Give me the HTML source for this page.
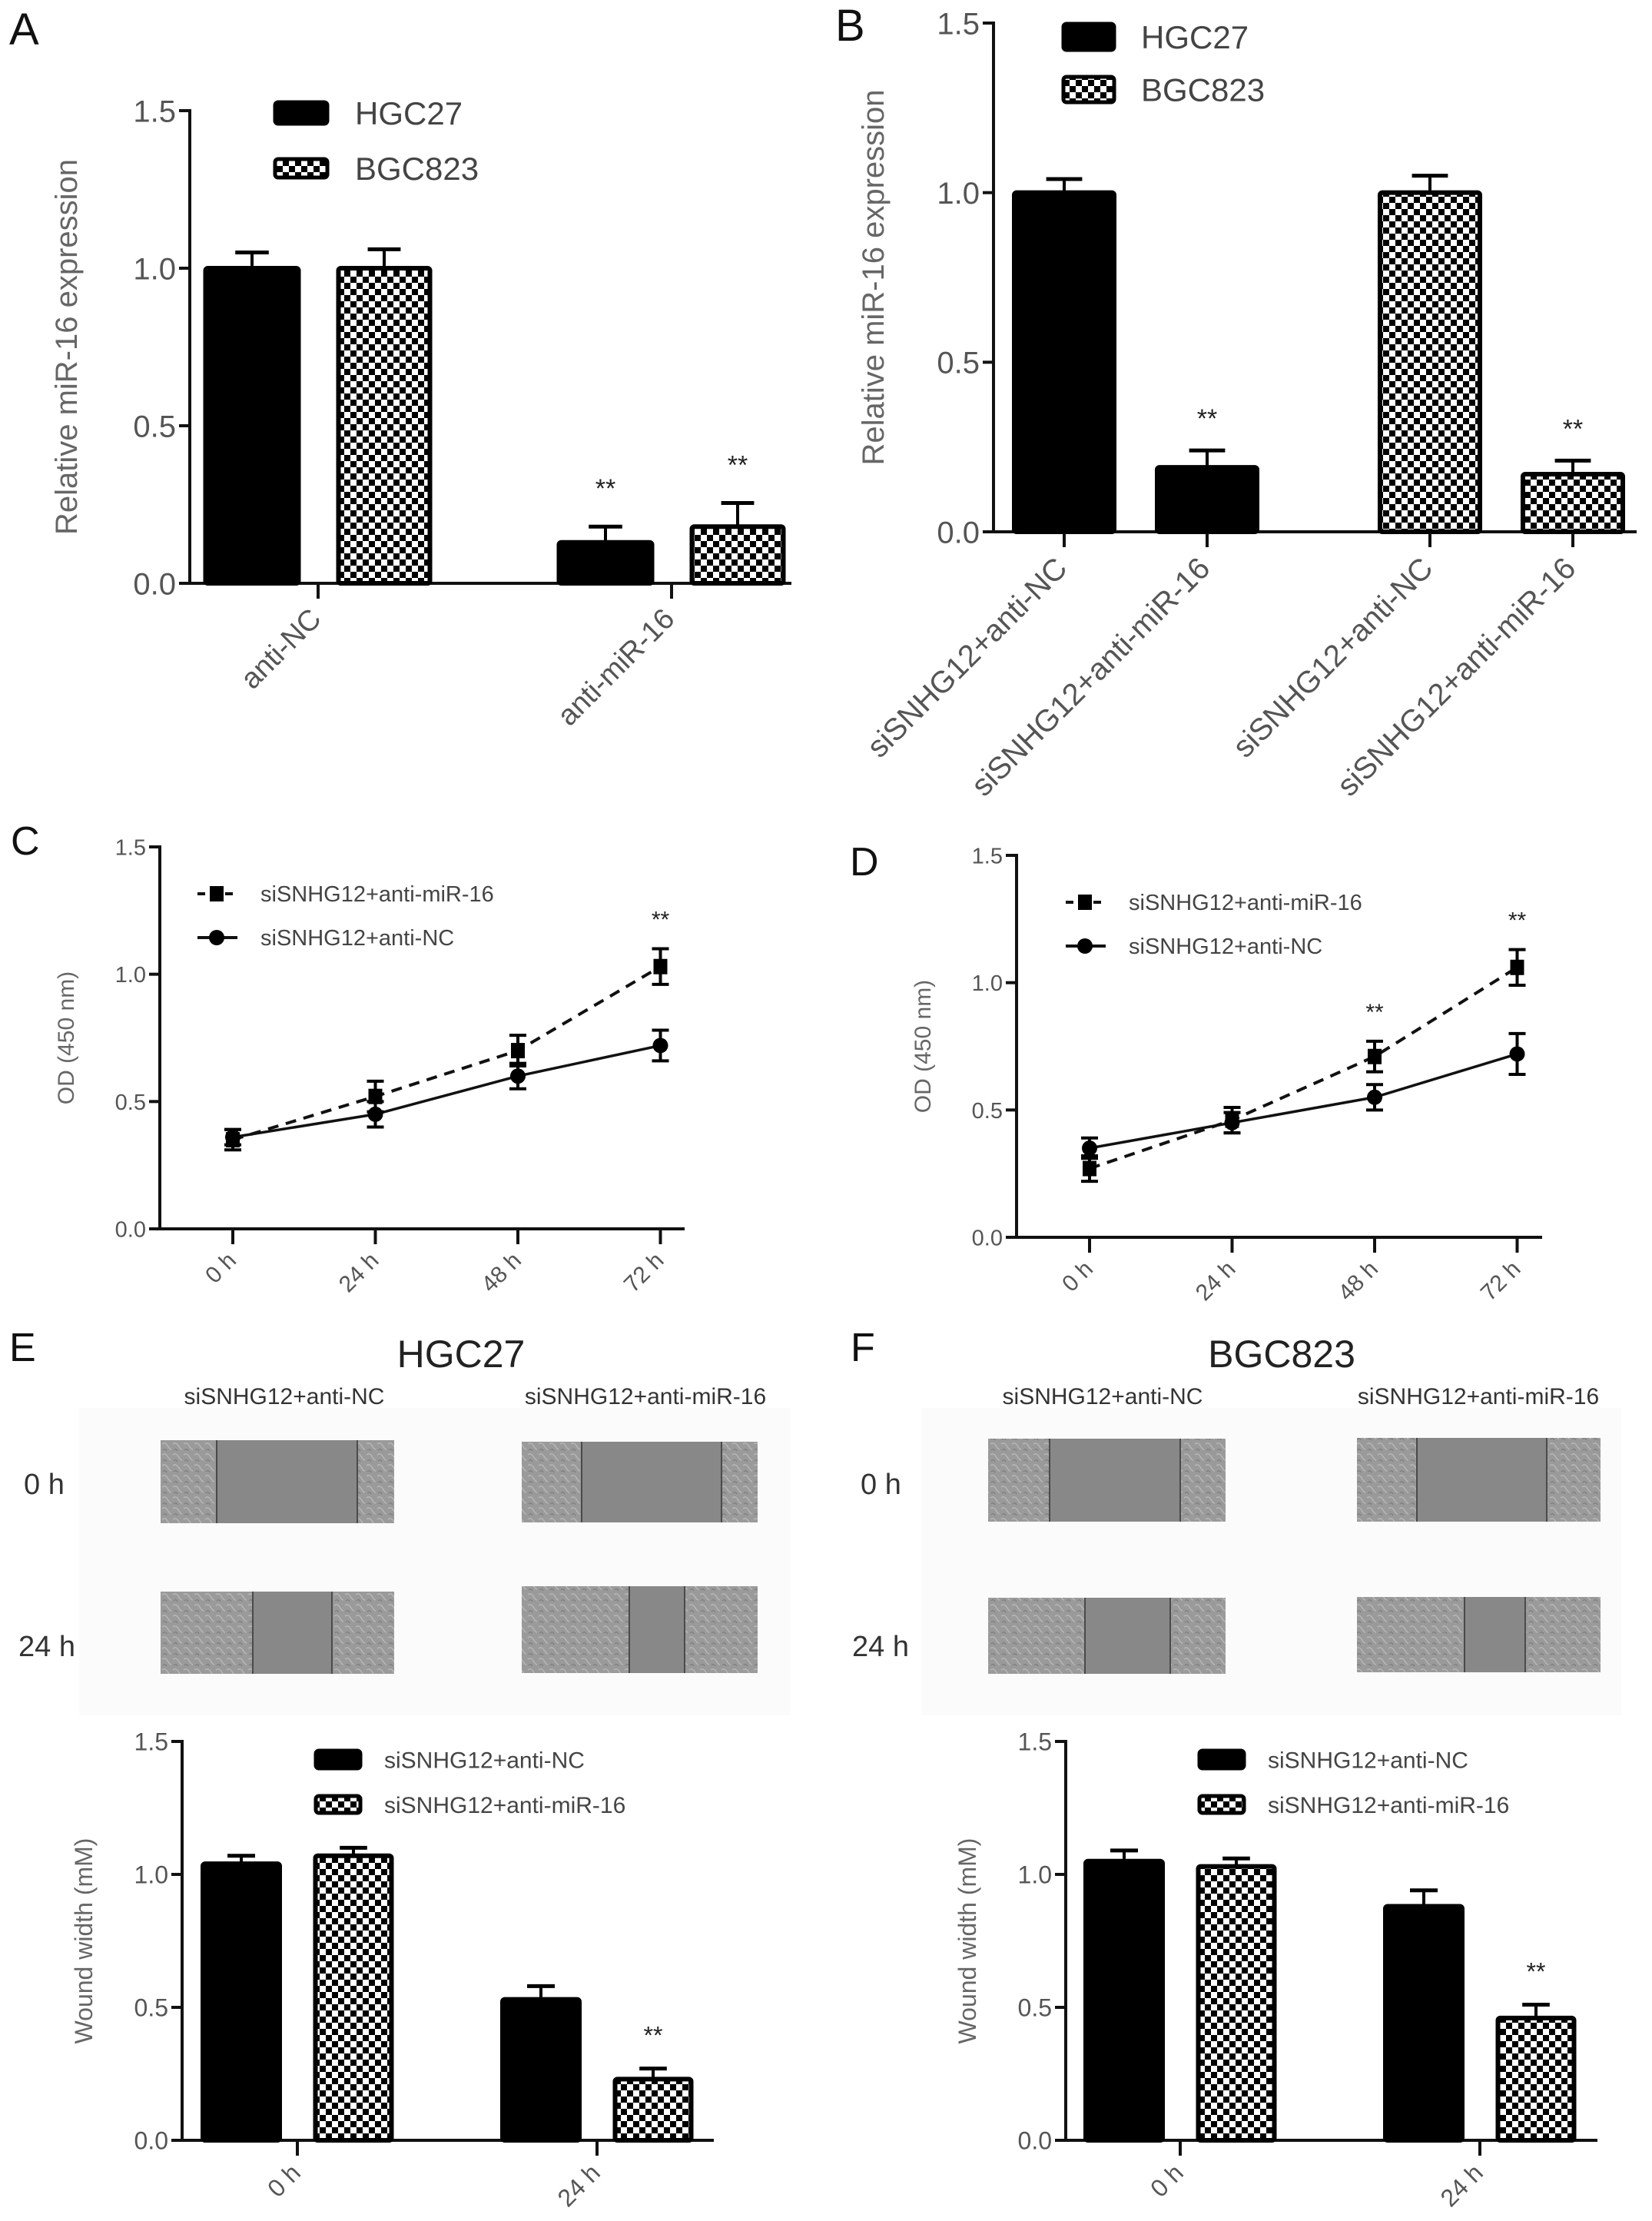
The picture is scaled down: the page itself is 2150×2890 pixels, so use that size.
<!DOCTYPE html>
<html><head><meta charset="utf-8"><style>
html,body{margin:0;padding:0;background:#fff;}
svg{display:block;font-family:"Liberation Sans",Arial,sans-serif;}
</style></head><body>
<svg id="fig" xmlns="http://www.w3.org/2000/svg" width="2150" height="2890" viewBox="0 0 2150 2890">
<defs>
<pattern id="chk" width="16" height="16" patternUnits="userSpaceOnUse">
<rect width="16" height="16" fill="#fff"/><rect x="0" y="0" width="8" height="8" fill="#000"/><rect x="8" y="8" width="8" height="8" fill="#000"/>
</pattern>
<pattern id="cells" width="14" height="14" patternUnits="userSpaceOnUse">
<rect width="14" height="14" fill="#9a9a9a"/><path d="M1 3 Q5 0 8 5 T13 10" stroke="#b8b8b8" stroke-width="1.4" fill="none"/><path d="M2 11 Q5 8 7 12" stroke="#7a7a7a" stroke-width="1.1" fill="none"/>
</pattern>
</defs>
<g id="root"></g>
</svg>
<script>
// ---- Panel A data ----
const aCategories = ["anti-NC", "anti-miR-16"];
const aSeries = ["HGC27", "BGC823"];
const aHGC = [1.00, 0.13];
const aHGCErr = [0.05, 0.05];
const aBGC = [1.00, 0.18];
const aBGCErr = [0.06, 0.075];
const aTicks = ["0.0", "0.5", "1.0", "1.5"];
// ---- Panel B data ----
const bCategories = ["siSNHG12+anti-NC", "siSNHG12+anti-miR-16", "siSNHG12+anti-NC", "siSNHG12+anti-miR-16"];
const bValues = [1.00, 0.19, 1.00, 0.17];
const bErr = [0.04, 0.05, 0.05, 0.04];
const bSeriesOf = ["HGC27", "HGC27", "BGC823", "BGC823"];
const bStars = ["", "**", "", "**"];
// ---- Panel C data ----
const cTimes = ["0 h", "24 h", "48 h", "72 h"];
const cMiR = [0.35, 0.52, 0.70, 1.03];
const cMiRErr = [0.04, 0.06, 0.06, 0.07];
const cNC = [0.36, 0.45, 0.60, 0.72];
const cNCErr = [0.03, 0.05, 0.05, 0.06];
const cStars = ["", "", "", "**"];
// ---- Panel D data ----
const dTimes = ["0 h", "24 h", "48 h", "72 h"];
const dMiR = [0.27, 0.46, 0.71, 1.06];
const dMiRErr = [0.05, 0.05, 0.06, 0.07];
const dNC = [0.35, 0.45, 0.55, 0.72];
const dNCErr = [0.04, 0.04, 0.05, 0.08];
const dStars = ["", "", "**", "**"];
// ---- Panel E data ----
const eCategories = ["0 h", "24 h"];
const eNC = [1.04, 0.53];
const eNCErr = [0.03, 0.05];
const eMiR = [1.07, 0.23];
const eMiRErr = [0.03, 0.04];
const eStars = ["", "**"];
// ---- Panel F data ----
const fCategories = ["0 h", "24 h"];
const fNC = [1.05, 0.88];
const fNCErr = [0.04, 0.06];
const fMiR = [1.03, 0.46];
const fMiRErr = [0.03, 0.05];
const fStars = ["", "**"];
const lineTicks = ["0.0", "0.5", "1.0", "1.5"];

const NS = "http://www.w3.org/2000/svg";
const root = document.getElementById("root");
function mk(tag, attrs, parent) {
  const e = document.createElementNS(NS, tag);
  for (const k in attrs) e.setAttribute(k, attrs[k]);
  (parent || root).appendChild(e);
  return e;
}
function txt(s, attrs, parent) { const t = mk("text", attrs, parent); t.textContent = s; return t; }

function axes(g, ax, tickLabels, fs, title, titleX, titleFs) {
  const yv = v => ax.y0 - v / 1.5 * (ax.y0 - ax.yTop);
  let e = mk("line", {x1: ax.x0, y1: ax.yTop - 2, x2: ax.x0, y2: ax.y0, stroke: "#111", "stroke-width": 4}, g);
  
  
  e = mk("line", {x1: ax.x0 - 14, y1: ax.y0, x2: ax.xEnd, y2: ax.y0, stroke: "#111", "stroke-width": 4}, g);
  
  
  tickLabels.forEach(l => {
    const y = yv(parseFloat(l));
    mk("line", {x1: ax.x0 - 14, y1: y, x2: ax.x0, y2: y, stroke: "#111", "stroke-width": 4}, g);
    const t = txt(l, {x: ax.x0 - 18, y: y + fs * 0.36, "text-anchor": "end", "font-size": fs, fill: "#555"}, g);
    
    
  });
  const cy = (ax.y0 + ax.yTop) / 2;
  const t = txt(title, {x: titleX, y: cy, "text-anchor": "middle", "font-size": titleFs, fill: "#666", transform: `rotate(-90 ${titleX} ${cy})`}, g);
  
  
  return yv;
}
function xLabel(g, s, x, y, fs) {
  mk("line", {x1: x, y1: y - 20, x2: x, y2: y - 2, stroke: "#111", "stroke-width": 4}, g);
  const t = txt(s, {x: x + 6, y: y + fs * 0.7, "text-anchor": "end", "font-size": fs, fill: "#555", transform: `rotate(-45 ${x + 6} ${y + fs * 0.7})`}, g);
  
  
}
function bar(g, yv, cx, w, v, err, fill, name) {
  const b = mk("rect", {x: cx - w / 2, y: yv(v), width: w, height: yv(0) - yv(v), fill: fill, stroke: "#000", "stroke-width": 6, rx: 3}, g);
  
  
  mk("line", {x1: cx, y1: yv(v), x2: cx, y2: yv(v + err), stroke: "#000", "stroke-width": 4}, g);
  mk("line", {x1: cx - w * 0.18, y1: yv(v + err), x2: cx + w * 0.18, y2: yv(v + err), stroke: "#000", "stroke-width": 5}, g);
}
function stars(g, s, x, y, fs) {
  if (!s) return;
  const t = txt(s, {x: x, y: y, "text-anchor": "middle", "font-size": fs, fill: "#222"}, g);
  
  
}
function legendBox(g, x, y, w, h, fill, label, tx, fs) {
  const r = mk("rect", {x: x, y: y, width: w, height: h, fill: fill, stroke: "#000", "stroke-width": 5, rx: 4}, g);
  
  
  const t = txt(label, {x: tx, y: y + h / 2 + fs * 0.36, "font-size": fs, fill: "#444"}, g);
  
  
}
function panelLetter(s, x, y, fs) {
  const t = txt(s, {x: x, y: y, "font-size": fs, fill: "#111"});
  
  
}

// ---------- Panel A ----------
(function () {
  const g = mk("g", {});
  
  
  const ax = {x0: 247, y0: 759, yTop: 144, xEnd: 1030};
  const yv = axes(g, ax, aTicks, 40, "Relative miR-16 expression", 100, 40);
  const gx = i => 414 + i * 460;
  aCategories.forEach((c, i) => {
    bar(g, yv, gx(i) - 86, 121, aHGC[i], aHGCErr[i], "#000", "bar-hgc27-" + c);
    bar(g, yv, gx(i) + 86, 119, aBGC[i], aBGCErr[i], "url(#chk)", "bar-bgc823-" + c);
    xLabel(g, c, gx(i), ax.y0 + 22, 38);
  });
  stars(g, "**", gx(1) - 86, yv(aHGC[1] + aHGCErr[1]) - 38, 34);
  stars(g, "**", gx(1) + 86, yv(aBGC[1] + aBGCErr[1]) - 38, 34);
  legendBox(g, 358, 133, 68, 28, "#000", aSeries[0], 462, 42);
  legendBox(g, 358, 207, 68, 24, "url(#chk)", aSeries[1], 462, 42);
})();
panelLetter("A", 12, 58, 58);

// ---------- Panel B ----------
(function () {
  const g = mk("g", {});
  
  
  const ax = {x0: 1293, y0: 692, yTop: 30, xEnd: 2130};
  const yv = axes(g, ax, aTicks, 40, "Relative miR-16 expression", 1150, 40);
  const bx = i => 1478 + Math.floor(i / 2) * 476 + (i % 2 - 0.5) * 186;
  bCategories.forEach((c, i) => {
    bar(g, yv, bx(i), 130, bValues[i], bErr[i], bSeriesOf[i] === "HGC27" ? "#000" : "url(#chk)", "bar-" + bSeriesOf[i].toLowerCase() + "-" + i);
    stars(g, bStars[i], bx(i), yv(bValues[i] + bErr[i]) - 30, 34);
    xLabel(g, c, bx(i), ax.y0 + 22, 40);
  });
  legendBox(g, 1384, 31, 66, 34, "#000", "HGC27", 1485, 42);
  legendBox(g, 1384, 100, 66, 33, "url(#chk)", "BGC823", 1485, 42);
})();
panelLetter("B", 1087, 53, 58);

// ---------- Line charts ----------
function lineChart(name, ax, times, miR, miRErr, nc, ncErr, st, legX, legY) {
  const g = mk("g", {});
  
  
  const yv = axes(g, ax, lineTicks, 29, "OD (450 nm)", ax.x0 - 112, 30);
  const xv = i => ax.x0 + 95 + i * 185.5;
  times.forEach((t, i) => xLabel(g, t, xv(i), ax.y0 + 22, 30));
  const ptsM = miR.map((v, i) => xv(i) + "," + yv(v)).join(" ");
  const ptsN = nc.map((v, i) => xv(i) + "," + yv(v)).join(" ");
  let l = mk("polyline", {points: ptsM, fill: "none", stroke: "#111", "stroke-width": 4, "stroke-dasharray": "14 10"}, g);
  
  
  l = mk("polyline", {points: ptsN, fill: "none", stroke: "#111", "stroke-width": 3.5}, g);
  
  
  function eb(x, v, e) {
    mk("line", {x1: x, y1: yv(v - e), x2: x, y2: yv(v + e), stroke: "#000", "stroke-width": 4}, g);
    mk("line", {x1: x - 11, y1: yv(v - e), x2: x + 11, y2: yv(v - e), stroke: "#000", "stroke-width": 4}, g);
    mk("line", {x1: x - 11, y1: yv(v + e), x2: x + 11, y2: yv(v + e), stroke: "#000", "stroke-width": 4}, g);
  }
  miR.forEach((v, i) => {
    eb(xv(i), v, miRErr[i]);
    const r = mk("rect", {x: xv(i) - 9, y: yv(v) - 10, width: 18, height: 20, fill: "#000"}, g);
    
    
  });
  nc.forEach((v, i) => {
    eb(xv(i), v, ncErr[i]);
    const c = mk("circle", {cx: xv(i), cy: yv(v), r: 10, fill: "#000"}, g);
    
    
  });
  st.forEach((s, i) => stars(g, s, xv(i), yv(Math.max(miR[i] + miRErr[i], nc[i] + ncErr[i])) - 28, 30));
  let ll = mk("line", {x1: legX, y1: legY, x2: legX + 52, y2: legY, stroke: "#111", "stroke-width": 4, "stroke-dasharray": "10 8"}, g);
  
  
  mk("rect", {x: legX + 16, y: legY - 10, width: 18, height: 20, fill: "#000"}, g);
  let t = txt("siSNHG12+anti-miR-16", {x: legX + 82, y: legY + 10, "font-size": 29, fill: "#444"}, g);
  
  
  ll = mk("line", {x1: legX, y1: legY + 57, x2: legX + 52, y2: legY + 57, stroke: "#111", "stroke-width": 4}, g);
  
  
  mk("circle", {cx: legX + 25, cy: legY + 57, r: 10, fill: "#000"}, g);
  t = txt("siSNHG12+anti-NC", {x: legX + 82, y: legY + 67, "font-size": 29, fill: "#444"}, g);
  
  
}
lineChart("panel-c-line-chart", {x0: 208, y0: 1599, yTop: 1102, xEnd: 891}, cTimes, cMiR, cMiRErr, cNC, cNCErr, cStars, 257, 1163);
lineChart("panel-d-line-chart", {x0: 1323, y0: 1610, yTop: 1113, xEnd: 2007}, dTimes, dMiR, dMiRErr, dNC, dNCErr, dStars, 1387, 1174);
panelLetter("C", 14, 1112, 52);
panelLetter("D", 1106, 1139, 52);

// ---------- Wound images ----------
function wound(x, y, w, h, l1, l2, name) {
  const g = mk("g", {});
  
  
  mk("rect", {x: x, y: y, width: w, height: h, fill: "url(#cells)"}, g);
  mk("rect", {x: l1, y: y, width: l2 - l1, height: h, fill: "#888"}, g);
  mk("line", {x1: l1, y1: y, x2: l1, y2: y + h, stroke: "#4a4a4a", "stroke-width": 2}, g);
  mk("line", {x1: l2, y1: y, x2: l2, y2: y + h, stroke: "#4a4a4a", "stroke-width": 2}, g);
}
function woundPanel(letter, lx, title, tx, c1, c2, bg, imgs, rowX) {
  const bgR = mk("rect", {x: bg[0], y: bg[1], width: bg[2], height: bg[3], fill: "#fbfbfb"});
  
  
  panelLetter(letter, lx, 1771, 52);
  let t = txt(title, {x: tx, y: 1779, "text-anchor": "middle", "font-size": 50, fill: "#222"});
  
  
  t = txt("siSNHG12+anti-NC", {x: c1, y: 1827, "text-anchor": "middle", "font-size": 30, fill: "#333"});
  
  
  t = txt("siSNHG12+anti-miR-16", {x: c2, y: 1827, "text-anchor": "middle", "font-size": 30, fill: "#333"});
  
  
  t = txt("0 h", {x: rowX[0], y: 1944, "font-size": 38, fill: "#333"});
  
  
  t = txt("24 h", {x: rowX[1], y: 2155, "font-size": 38, fill: "#333"});
  
  
  imgs.forEach((m, i) => wound(m[0], m[1], m[2], m[3], m[4], m[5], "wound-image-" + i));
}
woundPanel("E", 12, "HGC27", 600, 370, 840, [103, 1832, 925, 400],
  [[209, 1874, 304, 108, 282, 465], [679, 1876, 307, 105, 757, 939], [209, 2071, 304, 107, 329, 432], [679, 2064, 307, 113, 819, 891]], [31, 24]);
woundPanel("F", 1107, "BGC823", 1668, 1435, 1924, [1200, 1832, 910, 400],
  [[1286, 1872, 309, 108, 1366, 1536], [1766, 1871, 317, 109, 1844, 2013], [1286, 2079, 309, 99, 1412, 1523], [1766, 2078, 317, 98, 1906, 1985]], [1120, 1109]);

// ---------- Wound bar charts ----------
function woundBars(name, ax, cats, nc, ncErr, mir, mirErr, st, gc, legX, titleX) {
  const g = mk("g", {});
  
  
  const yv = axes(g, ax, lineTicks, 32, "Wound width (mM)", titleX, 32);
  const gx = i => gc + i * 390;
  cats.forEach((c, i) => {
    bar(g, yv, gx(i) - 73, 100, nc[i], ncErr[i], "#000", "bar-anti-nc-" + c);
    bar(g, yv, gx(i) + 73, 99, mir[i], mirErr[i], "url(#chk)", "bar-anti-mir-16-" + c);
    stars(g, st[i], gx(i) + 73, yv(mir[i] + mirErr[i]) - 32, 32);
    xLabel(g, c, gx(i), ax.y0 + 22, 32);
  });
  legendBox(g, legX, 2278, 58, 23, "#000", "siSNHG12+anti-NC", legX + 89, 30);
  legendBox(g, legX, 2337, 58, 22, "url(#chk)", "siSNHG12+anti-miR-16", legX + 89, 30);
}
woundBars("panel-e-bar-chart", {x0: 237, y0: 2785, yTop: 2266, xEnd: 929}, eCategories, eNC, eNCErr, eMiR, eMiRErr, eStars, 387, 411, 120);
woundBars("panel-f-bar-chart", {x0: 1387, y0: 2785, yTop: 2266, xEnd: 2079}, fCategories, fNC, fNCErr, fMiR, fMiRErr, fStars, 1536, 1561, 1270);
</script>
</body></html>
